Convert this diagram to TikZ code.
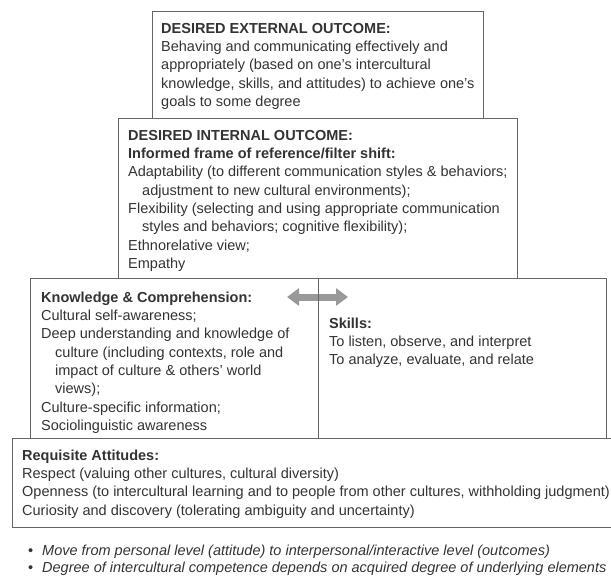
\documentclass[tikz,border=0pt]{standalone}
\usepackage{fontspec}
\setmainfont{Liberation Sans}
\usetikzlibrary{arrows.meta}
\definecolor{textgray}{HTML}{333333}
\definecolor{linegray}{HTML}{666666}
\definecolor{arrowgray}{HTML}{999999}
\newcommand{\fsz}{\fontsize{14.5}{18.3}\selectfont}
\newcommand{\topstrut}{\rule{0pt}{12pt}}
\tikzset{
  txt/.style={anchor=north west, inner sep=0pt, align=left, text=textgray,
    font=\fsz},
  boxline/.style={draw=linegray, line width=0.9pt},
}
\newcommand{\hang}{\hspace*{14pt}}
\begin{document}
\begin{tikzpicture}[x=1pt,y=-1pt]
\useasboundingbox (0,0) rectangle (611,576);
\clip (0,0) rectangle (611,576);
% double arrow between knowledge and skills
\coordinate (al) at (287,297);
\coordinate (ar) at (348,297);
\draw[arrowgray, line width=7pt,
  {Triangle[length=12pt,width=17pt]}-{Triangle[length=12pt,width=17pt]}] (al) -- (ar);
% boxes
\draw[boxline] (152,118) -- (152,11) -- (483,11) -- (483,118);
\draw[boxline] (118,118) rectangle (517,278);
\draw[boxline] (30,278) rectangle (318,438);
\draw[boxline] (318,278) rectangle (606,438);
\draw[boxline] (620,438) -- (12,438) -- (12,527) -- (620,527);
% texts (y = first baseline - 12)
\node[txt] (ext) at (161,21) {\topstrut\textbf{DESIRED EXTERNAL OUTCOME:}\\
Behaving and communicating effectively and\\
appropriately (based on one’s intercultural\\
knowledge, skills, and attitudes) to achieve one’s\\
goals to some degree};
\node[txt] (int) at (128,128) {\topstrut\textbf{DESIRED INTERNAL OUTCOME:}\\
\textbf{Informed frame of reference/filter shift:}\\
Adaptability (to different communication styles \& behaviors;\\
\hang adjustment to new cultural environments);\\
Flexibility (selecting and using appropriate communication\\
\hang styles and behaviors; cognitive flexibility);\\
Ethnorelative view;\\
Empathy};
\node[txt] (know) at (41,290) {\topstrut\textbf{Knowledge \& Comprehension:}\\
Cultural self-awareness;\\
Deep understanding and knowledge of\\
\hang culture (including contexts, role and\\
\hang impact of culture \& others’ world\\
\hang views);\\
Culture-specific information;\\
Sociolinguistic awareness};
\node[txt] (skills) at (329,316) {\topstrut\textbf{Skills:}\\
To listen, observe, and interpret\\
To analyze, evaluate, and relate};
\node[txt] (att) at (22,448) {\topstrut\textbf{Requisite Attitudes:}\\
Respect (valuing other cultures, cultural diversity)\\
Openness (to intercultural learning and to people from other cultures, withholding judgment)\\
Curiosity and discovery (tolerating ambiguity and uncertainty)};
\node[txt] (b1) at (28,543) {\topstrut•};
\node[txt] (b2) at (28,560) {\topstrut•};
\node[txt, font=\fsz\itshape] (n1) at (42,543) {\topstrut Move from personal level (attitude) to interpersonal/interactive level (outcomes)};
\node[txt, font=\fsz\itshape] (n2) at (42,560) {\topstrut Degree of intercultural competence depends on acquired degree of underlying elements};
\end{tikzpicture}
\end{document}
